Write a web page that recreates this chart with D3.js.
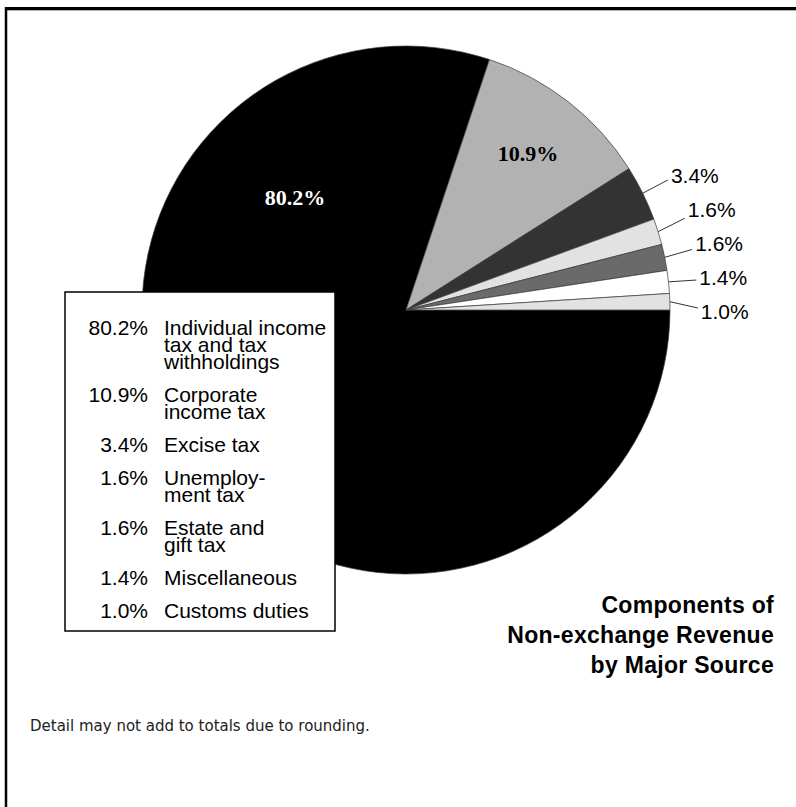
<!DOCTYPE html>
<html><head><meta charset="utf-8">
<script src="https://cdn.jsdelivr.net/npm/d3@7"></script>
<style>body{margin:0;background:#fff}svg{display:block}</style>
</head><body>
<svg id="chart" width="796" height="807"></svg>
<script>
// ---- data ----
const categories = ["Individual income tax and tax withholdings","Corporate income tax","Excise tax","Unemployment tax","Estate and gift tax","Miscellaneous","Customs duties"];
const legendLines = [["Individual income","tax and tax","withholdings"],["Corporate","income tax"],["Excise tax"],["Unemploy-","ment tax"],["Estate and","gift tax"],["Miscellaneous"],["Customs duties"]];
const values = [80.2, 10.9, 3.4, 1.6, 1.6, 1.4, 1.0];
const colors = ["#000000","#b2b2b2","#333333","#e2e2e2","#6a6a6a","#ffffff","#e2e2e2"];
const titleLines = ["Components of","Non-exchange Revenue","by Major Source"];
const footnote = "Detail may not add to totals due to rounding.";

// ---- layout ----
const W = 796, H = 807;
const cx = 406, cy = 310, R = 264;
const svg = d3.select("#chart");
const sans = "'Liberation Sans', Arial, sans-serif";
const serif = "'Liberation Serif', 'Times New Roman', serif";
const fmt = v => d3.format(".1f")(v) + "%";

// frame
svg.append("line").attr("x1",5).attr("x2",W).attr("y1",8.5).attr("y2",8.5).attr("stroke","#000").attr("stroke-width",3);
svg.append("line").attr("x1",7).attr("x2",W).attr("y1",10.5).attr("y2",10.5).attr("stroke","#b0b0b0").attr("stroke-width",1);
svg.append("line").attr("x1",6).attr("x2",6).attr("y1",7).attr("y2",H).attr("stroke","#000").attr("stroke-width",2.5);

// pie
const pie = d3.pie().sort(null).value(d => d).startAngle(Math.PI/2).endAngle(Math.PI/2 + 2*Math.PI);
const arcs = pie(values);
const arc = d3.arc().innerRadius(0).outerRadius(R);
const g = svg.append("g").attr("transform", `translate(${cx},${cy})`);
g.selectAll("path.slice").data(arcs).join("path")
  .attr("class","slice")
  .attr("d", arc)
  .attr("fill", (d,i) => colors[i])
  .attr("stroke", "#3a3a3a")
  .attr("stroke-width", 0.7)
  .attr("stroke-linejoin","round");

const mid = d => (d.startAngle + d.endAngle) / 2;
const polar = (a, r) => [r * Math.sin(a), -r * Math.cos(a)];

// inside labels
const bigLabelAngle = -Math.PI/4, bigLabelR = 157;
const inner = d3.arc().innerRadius(R*0.75).outerRadius(R*0.75);
[0,1].forEach(i => {
  const p = i === 0 ? polar(bigLabelAngle, bigLabelR) : inner.centroid(arcs[i]);
  g.append("text").attr("x", p[0]).attr("y", p[1] - 1)
    .attr("text-anchor","middle").attr("dominant-baseline","central")
    .attr("font-family", serif).attr("font-weight","bold").attr("font-size", 22)
    .attr("fill", i === 0 ? "#fff" : "#000")
    .text(fmt(values[i]));
});

// outside labels with leader lines (spread vertically to avoid overlap)
const small = arcs.slice(2);
const ends = small.map(d => polar(mid(d), R + 28));
const starts = small.map(d => polar(mid(d), R));
const order = small.map((d,i)=>i).sort((a,b)=>ends[a][1]-ends[b][1]);
const gap = 34;
let ys = order.map(i => ends[i][1]);
let clusters = ys.map((y,k)=>({start:k, n:1, c:y}));
let changed = true;
while (changed) {
  changed = false;
  for (let k = 0; k < clusters.length-1; k++) {
    const a = clusters[k], b = clusters[k+1];
    const aBottom = a.c + (a.n-1)*gap/2, bTop = b.c - (b.n-1)*gap/2;
    if (bTop - aBottom < gap) {
      const n = a.n + b.n;
      const c = (a.c*a.n + b.c*b.n)/n;
      clusters.splice(k, 2, {start:a.start, n, c});
      changed = true; break;
    }
  }
}
const labelY = new Array(small.length);
clusters.forEach(cl => {
  for (let j = 0; j < cl.n; j++) labelY[order[cl.start+j]] = cl.c - (cl.n-1)*gap/2 + j*gap;
});
small.forEach((d,i) => {
  const e = ends[i], s = starts[i];
  const ly = (e[1] + labelY[i]) / 2;
  g.append("line").attr("x1", s[0]).attr("y1", s[1]).attr("x2", e[0]).attr("y2", ly)
    .attr("stroke","#333").attr("stroke-width",1);
  g.append("text").attr("x", e[0] + 3).attr("y", labelY[i] - 4)
    .attr("dominant-baseline","central")
    .attr("font-family", sans).attr("font-size", 21).attr("fill","#000")
    .text(fmt(values[i+2]));
});

// legend box
const lg = svg.append("g");
lg.append("rect").attr("x",65).attr("y",292).attr("width",270).attr("height",339)
  .attr("fill","#fff").attr("stroke","#000").attr("stroke-width",1.5);
let y = 335;
values.forEach((v,i) => {
  lg.append("text").attr("x",148).attr("y",y).attr("text-anchor","end")
    .attr("font-family", sans).attr("font-size",21).text(fmt(v));
  const t = lg.append("text").attr("x",164).attr("y",y).attr("font-family", sans).attr("font-size",21);
  legendLines[i].forEach((ln,j) => t.append("tspan").attr("x",164).attr("y", y + j*17).text(ln));
  y += 17*(legendLines[i].length-1) + 33;
});

// title
const tt = svg.append("text").attr("text-anchor","end").attr("font-family", sans)
  .attr("font-weight","bold").attr("font-size",23).attr("letter-spacing",0.3).attr("fill","#000");
titleLines.forEach((ln,j) => tt.append("tspan").attr("x",774).attr("y", 613 + j*30).text(ln));

// footnote
svg.append("text").attr("x",30).attr("y",731).attr("font-family","'DejaVu Sans', Verdana, sans-serif")
  .attr("font-size",15).attr("fill","#222").text(footnote);
</script>
</body></html>
